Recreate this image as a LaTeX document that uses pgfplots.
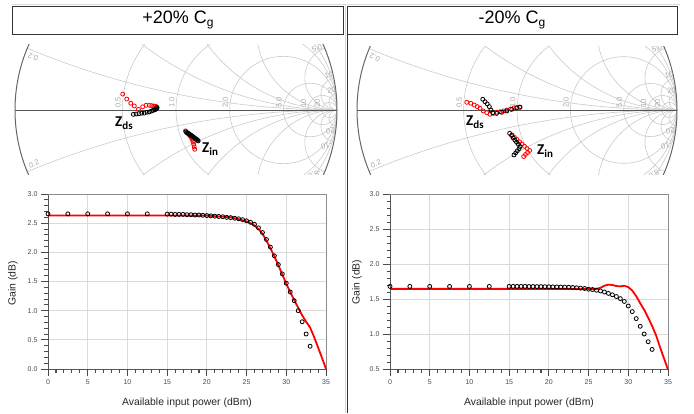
\documentclass[border=0pt]{standalone}
\usepackage{fontspec}
\setmainfont{Liberation Sans}
\newfontfamily\calibri{Carlito}
\usepackage{pgfplots}
\pgfplotsset{compat=1.18}

\definecolor{gridgray}{HTML}{DADADA}
\definecolor{smithgrid}{HTML}{CACACA}
\definecolor{smithlbl}{HTML}{A2ABA2}
\definecolor{axgray}{HTML}{555555}

\tikzset{tk/.style={draw=black!70, line width=0.8pt}}

\pgfplotsset{
  gain/.style={
    scale only axis, width=278pt, height=175pt, clip=false,
    xmin=0, xmax=35, xtick={0,5,...,35}, minor x tick num=4, minor y tick num=4,
    axis x line*=bottom, axis y line*=left,
    axis line style={draw=axgray, line width=0.9pt, -},
    tick align=outside, major tick length=7pt, minor tick length=3.5pt,
    grid=major, major grid style={draw=gridgray, line width=0.8pt},
    every tick/.style={draw=black!70, line width=0.9pt},
    tick label style={font=\fontsize{7}{8}\selectfont, text=black!70},
    /pgf/number format/assume math mode=true,
    yticklabel style={/pgf/number format/fixed, /pgf/number format/fixed zerofill, /pgf/number format/precision=1},
    xlabel={Available input power (dBm)}, ylabel={Gain (dB)},
    label style={font=\fontsize{10.4}{12}\selectfont, text=black!85},
    xlabel style={at={(axis description cs:0.5,-0.194)}, anchor=center},
  },
  smith/.style={hide axis, clip=false, xmin=-1, xmax=1, ymin=-0.404, ymax=0.404},
  meas/.style={only marks, mark=o, mark size=2pt, mark options={line width=0.8pt}},
}

% Smith chart grid in reflection-coefficient units
\newcommand{\smithgrid}{%
  \begin{scope}
    \clip (0,0) circle [radius=1];
    \foreach \r in {0.5,1,2,5,10,20}
      \draw[smithgrid, line width=0.6pt] ({\r/(1+\r)},0) circle [radius={1/(1+\r)}];
    \foreach \x in {0.2,0.5,1,2,5,10,20} {
      \draw[smithgrid, line width=0.6pt] (1,{1/\x}) circle [radius={1/\x}];
      \draw[smithgrid, line width=0.6pt] (1,{-1/\x}) circle [radius={1/\x}];
    }
  \end{scope}
  \draw[axgray, line width=0.8pt] (-1,0) -- (1,0);
  \draw[black!60, line width=1pt] (0,0) circle [radius=1];
  \foreach \g/\t in {-0.3333/0.5, 0/1.0, 0.3333/2.0, 0.6667/5.0, 0.8182/10, 0.9048/20}
    \node[text=smithlbl, font=\fontsize{7.5}{8}\selectfont, rotate=90, anchor=south west, inner sep=0pt] at ({\g-0.009},0.012) {\t};
  \foreach \px/\py/\a/\t in {-0.888/0.329/157/0.2, -0.882/-0.335/23/0.2, 0.875/0.385/22/5.0,
      0.950/0.217/12/10, 0.966/0.122/8/20, 0.966/-0.128/188/-20, 0.935/-0.222/195/-10, 0.862/-0.398/205/-5.0}
    \node[text=smithlbl, font=\fontsize{7.5}{8}\selectfont, rotate=\a, inner sep=0pt] at (\px,\py) {\t};
}

\begin{document}
\begin{tikzpicture}

% anchor points, in pixels of the 694x413 frame
\coordinate (smL) at (15pt,237.956pt);
\coordinate (smR) at (357pt,238.36pt);
\coordinate (gL) at (48pt,44pt);
\coordinate (gR) at (390pt,44pt);

\begin{scope}[x=1pt, y=1pt]
% frames and titles
\draw[black!15, line width=0.6pt] (12,409) -- (345,409) -- (345,0);
\draw[black!15, line width=0.6pt] (347,409) -- (680,409);
\draw[black!80, line width=0.8pt] (12,379) rectangle (343,407);
\draw[black!80, line width=0.8pt] (347,379) rectangle (677,407);
\draw[black!80, line width=1pt] (347,0) -- (347,379);
\node[font=\fontsize{18}{20}\selectfont] at (178,393) {+20\% C\raisebox{-0.35ex}{\fontsize{12}{12}\selectfont g}};
\node[font=\fontsize{18}{20}\selectfont] at (512,393) {-20\% C\raisebox{-0.35ex}{\fontsize{12}{12}\selectfont g}};

% Smith chart grids
\begin{scope}
  \clip (12,238) rectangle (345,368);
  \begin{scope}[shift={(176,303)}, x=161pt, y=161pt]
    \smithgrid
  \end{scope}
\end{scope}
\begin{scope}
  \clip (349,238) rectangle (690,366);
  \begin{scope}[shift={(517,303)}, x=160pt, y=160pt]
    \smithgrid
  \end{scope}
\end{scope}

\node[font=\calibri\bfseries\fontsize{15}{15}\selectfont, anchor=base west, inner sep=0pt] at (115,286)
  {Z\raisebox{-0.35ex}{\fontsize{11}{11}\selectfont ds}};
\node[font=\calibri\bfseries\fontsize{15}{15}\selectfont, anchor=base west, inner sep=0pt] at (202,260)
  {Z\raisebox{-0.35ex}{\fontsize{11}{11}\selectfont in}};
\node[font=\calibri\bfseries\fontsize{15}{15}\selectfont, anchor=base west, inner sep=0pt] at (466,287)
  {Z\raisebox{-0.35ex}{\fontsize{11}{11}\selectfont ds}};
\node[font=\calibri\bfseries\fontsize{15}{15}\selectfont, anchor=base west, inner sep=0pt] at (537,258)
  {Z\raisebox{-0.35ex}{\fontsize{11}{11}\selectfont in}};
\end{scope}

% +20% Cg impedances
\begin{axis}[smith, x=161pt, y=161pt, at={(smL)}, anchor=south west]
  \addplot[meas, red] coordinates {
    (-0.331,0.099) (-0.306,0.068) (-0.281,0.042) (-0.259,0.025) (-0.234,0.004)
    (-0.207,0.020) (-0.186,0.029) (-0.166,0.029) (-0.151,0.027) (-0.137,0.025)
    (-0.126,0.023) (-0.121,0.019) (-0.118,0.012)};
  \addplot[meas, black] coordinates {
    (-0.265,-0.027) (-0.248,-0.025) (-0.230,-0.023) (-0.213,-0.020) (-0.197,-0.019)
    (-0.180,-0.014) (-0.166,-0.012) (-0.151,-0.006) (-0.141,-0.002) (-0.130,0.002)
    (-0.124,0.006) (-0.120,0.012) (-0.118,0.016)};
  \addplot[meas, red] coordinates {
    (0.059,-0.130) (0.068,-0.142) (0.078,-0.151) (0.087,-0.160) (0.095,-0.171)
    (0.101,-0.183) (0.106,-0.198) (0.110,-0.213) (0.113,-0.229) (0.116,-0.244)};
  \addplot[meas, black] coordinates {
    (0.062,-0.135) (0.068,-0.140) (0.075,-0.144) (0.081,-0.149) (0.087,-0.153)
    (0.093,-0.157) (0.099,-0.161) (0.106,-0.166) (0.112,-0.171) (0.118,-0.176)
    (0.124,-0.180) (0.130,-0.184) (0.135,-0.188) (0.138,-0.192)};
\end{axis}

% -20% Cg impedances
\begin{axis}[smith, x=160pt, y=160pt, at={(smR)}, anchor=south west]
  \addplot[meas, red] coordinates {
    (-0.314,0.048) (-0.289,0.042) (-0.267,0.031) (-0.248,0.021) (-0.231,0.011)
    (-0.211,-0.006) (-0.189,-0.017) (-0.169,-0.027) (-0.148,-0.021) (-0.127,-0.014)
    (-0.106,-0.011) (-0.084,-0.006) (-0.063,0.000) (-0.041,0.006) (-0.019,0.013)
    (0.000,0.016) (0.016,0.019)};
  \addplot[meas, black] coordinates {
    (-0.214,0.067) (-0.200,0.052) (-0.186,0.038) (-0.173,0.021) (-0.163,0.000)
    (-0.152,-0.017) (-0.127,-0.021) (-0.096,-0.014) (-0.064,-0.006) (-0.033,0.004)
    (-0.002,0.013) (0.019,0.017)};
  \addplot[meas, red] coordinates {
    (-0.031,-0.156) (-0.016,-0.171) (0.000,-0.184) (0.016,-0.199) (0.031,-0.213)
    (0.047,-0.227) (0.063,-0.241) (0.079,-0.253) (0.066,-0.266) (0.053,-0.278)
    (0.042,-0.291)};
  \addplot[meas, black] coordinates {
    (-0.046,-0.146) (-0.034,-0.159) (-0.024,-0.174) (-0.013,-0.188) (-0.003,-0.201)
    (0.008,-0.214) (0.019,-0.228) (0.013,-0.242) (0.002,-0.255) (-0.008,-0.268)
    (-0.019,-0.281)};
\end{axis}

% gain, +20% Cg
\begin{axis}[gain, at={(gL)}, anchor=south west,
    ymin=0, ymax=3, ytick={0,0.5,1,1.5,2,2.5,3},
    ylabel style={at={(axis description cs:-0.126,0.491)}, anchor=center}]
  \draw[black!45, line width=0.7pt] (rel axis cs:0,1) -- (rel axis cs:1,1) -- (rel axis cs:1,0);
  \pgfplotsinvokeforeach{0,...,35}{\draw[tk] (axis cs:#1,0) -- ++(0pt,-3.5pt);}
  \pgfplotsinvokeforeach{0,5,...,35}{\draw[tk] (axis cs:#1,0) -- ++(0pt,-7pt);}
  \pgfplotsinvokeforeach{0,0.1,...,3.01}{\draw[tk] (axis cs:0,#1) -- ++(-3.5pt,0pt);}
  \pgfplotsinvokeforeach{0,0.5,...,3.01}{\draw[tk] (axis cs:0,#1) -- ++(-7pt,0pt);}
  \addplot[red, line width=1.8pt] coordinates {
    (0,2.63) (15,2.63) (20,2.63) (21,2.62) (22,2.61) (23,2.60) (24,2.57) (25,2.53)
    (25.5,2.50) (26,2.46) (26.5,2.40) (27,2.32) (27.5,2.20) (28,2.07) (28.5,1.93)
    (29,1.78) (29.5,1.62) (30,1.46) (30.5,1.32) (31,1.18) (31.5,1.05) (32,0.92)
    (32.5,0.81) (33,0.71) (33.5,0.55) (34,0.37) (34.5,0.19) (35,0.0)};
  \addplot[meas, black] coordinates {
    (0,2.66) (2.5,2.66) (5,2.66) (7.5,2.66) (10,2.66) (12.5,2.66)
    (15,2.655) (15.5,2.655) (16,2.65) (16.5,2.65) (17,2.65) (17.5,2.645) (18,2.645)
    (18.5,2.64) (19,2.64) (19.5,2.635) (20,2.63) (20.5,2.625) (21,2.62) (21.5,2.615)
    (22,2.61) (22.5,2.60) (23,2.595) (23.5,2.585) (24,2.575) (24.5,2.56) (25,2.54)
    (25.5,2.515) (26,2.48) (26.5,2.42) (27,2.34) (27.5,2.22) (28,2.09) (28.5,1.94)
    (29,1.79) (29.5,1.63) (30,1.47) (30.5,1.32) (31,1.17) (31.5,1.00) (32,0.81)
    (32.5,0.60) (33,0.39)};
\end{axis}

% gain, -20% Cg
\begin{axis}[gain, at={(gR)}, anchor=south west,
    ymin=0.5, ymax=3, ytick={0.5,1,1.5,2,2.5,3},
    ylabel style={at={(axis description cs:-0.119,0.497)}, anchor=center}]
  \draw[black!45, line width=0.7pt] (rel axis cs:0,1) -- (rel axis cs:1,1) -- (rel axis cs:1,0);
  \pgfplotsinvokeforeach{0,...,35}{\draw[tk] (axis cs:#1,0.5) -- ++(0pt,-3.5pt);}
  \pgfplotsinvokeforeach{0,5,...,35}{\draw[tk] (axis cs:#1,0.5) -- ++(0pt,-7pt);}
  \pgfplotsinvokeforeach{0.5,0.6,...,3.01}{\draw[tk] (axis cs:0,#1) -- ++(-3.5pt,0pt);}
  \pgfplotsinvokeforeach{0.5,1,...,3.01}{\draw[tk] (axis cs:0,#1) -- ++(-7pt,0pt);}
  \addplot[red, line width=1.8pt] coordinates {
    (0,1.645) (20,1.645) (25,1.645) (26,1.645) (26.5,1.66) (27,1.69) (27.5,1.705)
    (28,1.70) (28.5,1.685) (29,1.68) (29.5,1.69) (30,1.67) (30.5,1.62) (31,1.54)
    (31.5,1.44) (32,1.345) (32.5,1.235) (33,1.115) (33.5,0.98) (34,0.81) (34.5,0.65)
    (35,0.49)};
  \addplot[meas, black] coordinates {
    (0,1.68) (2.5,1.68) (5,1.68) (7.5,1.68) (10,1.68) (12.5,1.68)
    (15,1.68) (15.5,1.68) (16,1.68) (16.5,1.68) (17,1.68) (17.5,1.678) (18,1.678)
    (18.5,1.677) (19,1.677) (19.5,1.676) (20,1.675) (20.5,1.673) (21,1.672) (21.5,1.671)
    (22,1.67) (22.5,1.668) (23,1.665) (23.5,1.66) (24,1.655) (24.5,1.65) (25,1.64)
    (25.5,1.635) (26,1.625) (26.5,1.615) (27,1.60) (27.5,1.58) (28,1.56) (28.5,1.535)
    (29,1.505) (29.5,1.465) (30,1.40) (30.5,1.32) (31,1.22) (31.5,1.11) (32,1.00)
    (32.5,0.89) (33,0.78)};
\end{axis}

\pgfresetboundingbox
\useasboundingbox (0pt,0pt) rectangle (694pt,413pt);
\end{tikzpicture}
\end{document}
